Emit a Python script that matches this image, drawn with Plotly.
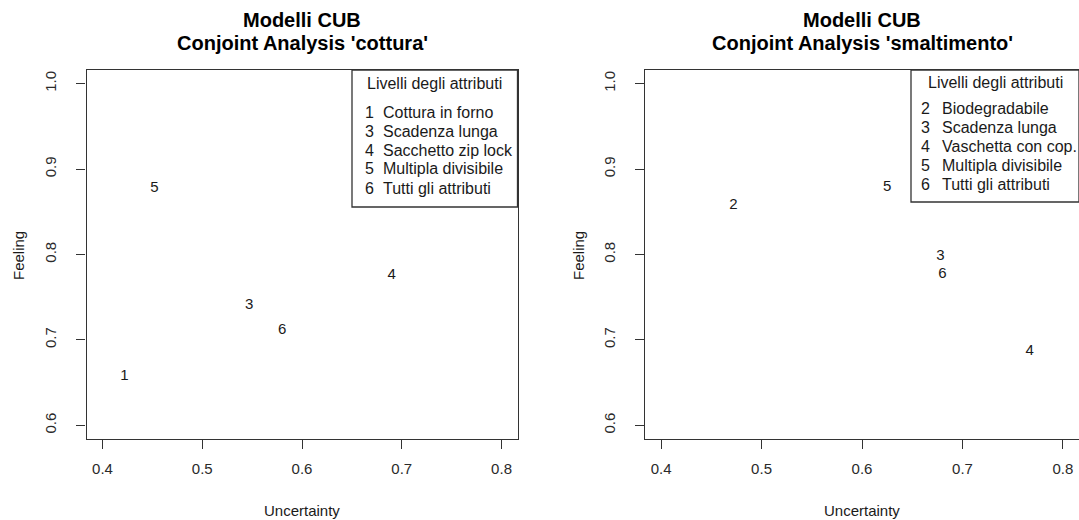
import plotly.graph_objects as go

W, H = 1079, 520

# ---- data ----
cottura_codes = ["1", "3", "4", "5", "6"]
cottura_uncertainty = [0.422, 0.547, 0.690, 0.452, 0.580]
cottura_feeling = [0.657, 0.741, 0.776, 0.878, 0.711]
cottura_names = ["Cottura in forno", "Scadenza lunga", "Sacchetto zip lock",
                 "Multipla divisibile", "Tutti gli attributi"]

smalt_codes = ["2", "3", "4", "5", "6"]
smalt_uncertainty = [0.472, 0.678, 0.767, 0.625, 0.680]
smalt_feeling = [0.858, 0.798, 0.687, 0.879, 0.777]
smalt_names = ["Biodegradabile", "Scadenza lunga", "Vaschetta con cop.",
               "Multipla divisibile", "Tutti gli attributi"]

title_line1 = ["Modelli CUB", "Modelli CUB"]
title_line2 = ["Conjoint Analysis 'cottura'", "Conjoint Analysis 'smaltimento'"]
legend_title = "Livelli degli attributi"
x_ticks = [0.4, 0.5, 0.6, 0.7, 0.8]
y_ticks = [0.6, 0.7, 0.8, 0.9, 1.0]
x_range = [0.384, 0.816]
y_range = [0.584, 1.016]

FONT = "Liberation Sans, Arial, sans-serif"
TXT = "#1a1a1a"

def px(x):
    return x / W

def py(y):
    return 1 - y / H

fig = go.Figure()

panels = [
    dict(codes=cottura_codes, u=cottura_uncertainty, f=cottura_feeling, names=cottura_names,
         xl=86.5, xr=517.5, cx=302, leg_l=352, leg_b=207, leg_title_y=83, item_y0=112, item_dy=19.0,
         num_x=369, lab_x=381, ylab_x=18),
    dict(codes=smalt_codes, u=smalt_uncertainty, f=smalt_feeling, names=smalt_names,
         xl=645, xr=1079, cx=862, leg_l=911, leg_b=202, leg_title_y=82, item_y0=108, item_dy=19.0,
         num_x=925, lab_x=940, ylab_x=578),
]

box_top, box_bot = 70, 439
annotations = []
shapes = []

for i, p in enumerate(panels):
    xa = "x" if i == 0 else "x2"
    ya = "y" if i == 0 else "y2"
    fig.add_trace(go.Scatter(
        x=p["u"], y=p["f"], text=p["codes"], mode="text",
        textposition="middle center",
        textfont=dict(family=FONT, size=15, color=TXT),
        xaxis=xa, yaxis=ya, showlegend=False, hoverinfo="skip"))

    axis_common = dict(showline=True, mirror=True, linecolor="#333", linewidth=1.3,
                       ticks="outside", ticklen=9, tickcolor="#333", tickwidth=1.3,
                       showgrid=False, zeroline=False,
                       tickfont=dict(family=FONT, size=15, color="#2a2a2a"))
    xkey = "xaxis" if i == 0 else "xaxis2"
    ykey = "yaxis" if i == 0 else "yaxis2"
    fig.layout[xkey] = dict(domain=[px(p["xl"]), px(p["xr"])], range=x_range,
                            tickvals=x_ticks, ticktext=[f"{v:.1f}" for v in x_ticks],
                            anchor=ya, ticklabelstandoff=7, **axis_common)
    fig.layout[ykey] = dict(domain=[py(box_bot), py(box_top)], range=y_range,
                            tickvals=y_ticks, ticktext=[f"{v:.1f}" for v in y_ticks],
                            tickangle=-90, anchor=xa, ticklabelstandoff=14, **axis_common)

    # titles
    for line, yy in ((title_line1[i], 20), (title_line2[i], 43)):
        annotations.append(dict(text="<b>" + line + "</b>", x=px(p["cx"]), y=py(yy),
                                xref="paper", yref="paper", showarrow=False,
                                xanchor="center", yanchor="middle",
                                font=dict(family=FONT, size=20, color="black")))
    # axis titles
    annotations.append(dict(text="Uncertainty", x=px(p["cx"]), y=py(510),
                            xref="paper", yref="paper", showarrow=False,
                            xanchor="center", yanchor="middle",
                            font=dict(family=FONT, size=15, color=TXT)))
    annotations.append(dict(text="Feeling", x=px(p["ylab_x"]), y=py(256),
                            xref="paper", yref="paper", showarrow=False, textangle=-90,
                            xanchor="center", yanchor="middle",
                            font=dict(family=FONT, size=15, color=TXT)))
    # legend box
    shapes.append(dict(type="rect", xref="paper", yref="paper",
                       x0=px(p["leg_l"]), x1=px(p["xr"]), y0=py(p["leg_b"]), y1=py(box_top),
                       line=dict(color="#333", width=1.3), fillcolor="white", layer="below"))
    annotations.append(dict(text=legend_title, x=px((p["leg_l"] + p["xr"]) / 2), y=py(p["leg_title_y"]),
                            xref="paper", yref="paper", showarrow=False,
                            xanchor="center", yanchor="middle",
                            font=dict(family=FONT, size=16, color=TXT)))
    for k, (c, n) in enumerate(zip(p["codes"], p["names"])):
        yy = p["item_y0"] + k * p["item_dy"]
        annotations.append(dict(text=c, x=px(p["num_x"]), y=py(yy), xref="paper", yref="paper",
                                showarrow=False, xanchor="center", yanchor="middle",
                                font=dict(family=FONT, size=16, color=TXT)))
        annotations.append(dict(text=n, x=px(p["lab_x"]), y=py(yy), xref="paper", yref="paper",
                                showarrow=False, xanchor="left", yanchor="middle",
                                font=dict(family=FONT, size=16, color=TXT)))

fig.update_layout(width=W, height=H, margin=dict(l=0, r=0, t=0, b=0),
                  paper_bgcolor="white", plot_bgcolor="white",
                  annotations=annotations, shapes=shapes, showlegend=False)

fig.write_html("out.html", config={"displayModeBar": False})
